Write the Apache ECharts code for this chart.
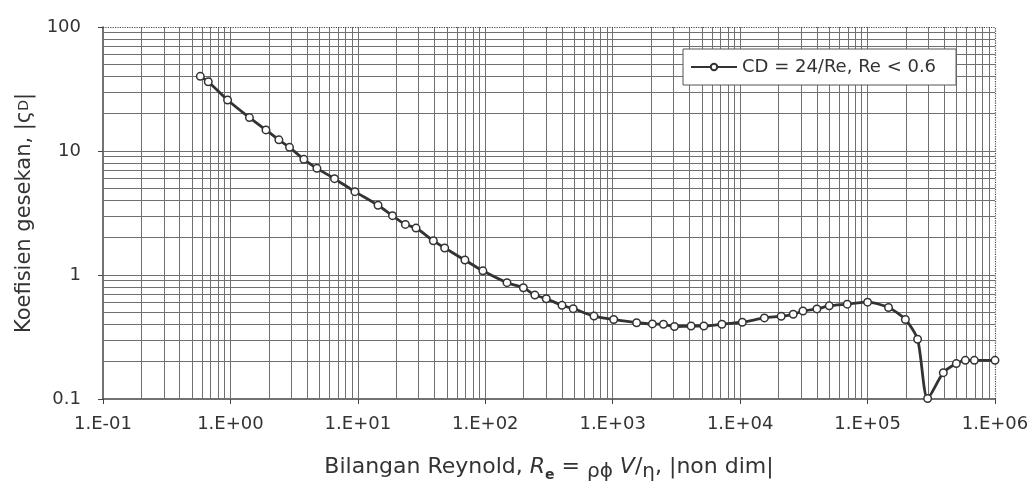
<!DOCTYPE html>
<html lang="id">
<head>
  <meta charset="UTF-8">
  <title>Koefisien gesekan vs Bilangan Reynold</title>
  <script src="https://cdn.jsdelivr.net/npm/echarts@6/dist/echarts.min.js"></script>
  <style>
    html, body { margin: 0; padding: 0; background: #fff; }
    #chart { width: 1028px; height: 487px; }
  </style>
</head>
<body>
  <div id="chart"></div>
  <script>
    // bilangan Reynold (sumbu x) dan koefisien gesekan (sumbu y)
    var reValues = [0.58, 0.67, 0.95, 1.41, 1.90, 2.40, 2.91, 3.77, 4.77, 6.56,
      9.49, 14.4, 18.7, 23.6, 28.6, 39.1, 48, 69.2, 95.7, 148,
      199, 245, 301, 400, 490, 713, 1018, 1540, 2047, 2500,
      3050, 4120, 5190, 7190, 10400, 15500, 21000, 26100, 31100, 40000,
      50000, 69200, 100000, 146000, 198000, 247000, 296000, 393000, 497000, 585000,
      689000, 1000000];
    var cdValues = [40, 36.2, 25.8, 18.6, 14.8, 12.3, 10.7, 8.57, 7.25, 5.98,
      4.70, 3.65, 3.01, 2.56, 2.39, 1.89, 1.65, 1.32, 1.08, 0.867,
      0.790, 0.689, 0.644, 0.569, 0.535, 0.466, 0.438, 0.412, 0.403, 0.401,
      0.384, 0.388, 0.388, 0.401, 0.416, 0.451, 0.465, 0.482, 0.512, 0.533,
      0.564, 0.582, 0.604, 0.547, 0.438, 0.303, 0.101, 0.163, 0.193, 0.205,
      0.205, 0.205];

    var xTickLabels = ['1.E-01', '1.E+00', '1.E+01', '1.E+02', '1.E+03', '1.E+04', '1.E+05', '1.E+06'];
    var yTickLabels = ['0.1', '1', '10', '100'];
    var seriesName = 'CD = 24/Re, Re < 0.6';

    var textColor = '#333';
    var gridColor = '#707070';
    var font = '"DejaVu Sans", sans-serif';

    var points = [];
    for (var i = 0; i < reValues.length; i++) {
      points.push([reValues[i], cdValues[i]]);
    }

    // garis grid kertas log: 1..9 x 10^k
    var gridLines = [];
    for (var k = -1; k <= 5; k++) {
      for (var m = 1; m <= 9; m++) {
        if (k === -1 && m === 1) continue;
        gridLines.push({ xAxis: m * Math.pow(10, k) });
      }
    }
    for (var k2 = -1; k2 <= 1; k2++) {
      for (var m2 = 1; m2 <= 9; m2++) {
        if (k2 === -1 && m2 === 1) continue;
        gridLines.push({ yAxis: m2 * Math.pow(10, k2) });
      }
    }
    // tepi atas dan kanan bertitik
    var borderLines = [{ xAxis: 1e6 }, { yAxis: 100 }];

    var chart = echarts.init(document.getElementById('chart'));
    var option = {
      backgroundColor: '#fff',
      animation: false,
      textStyle: { fontFamily: font, color: textColor },
      grid: { left: 103, right: 33, top: 27, bottom: 88, outerBoundsMode: 'none', containLabel: false },
      legend: {
        data: [seriesName],
        left: 683,
        top: 49,
        z: 20,
        padding: [8, 20, 8, 7],
        itemWidth: 46,
        itemHeight: 8,
        itemGap: 4,
        backgroundColor: '#fff',
        borderColor: '#555',
        borderWidth: 1,
        textStyle: { fontSize: 18, color: textColor, fontFamily: font, lineHeight: 20 }
      },
      xAxis: {
        type: 'log',
        logBase: 10,
        min: 0.1,
        max: 1e6,
        splitNumber: 7,
        splitLine: { show: false },
        axisLine: { lineStyle: { color: '#444', width: 1.5 } },
        axisTick: { length: 5, lineStyle: { color: '#444' } },
        axisLabel: {
          fontSize: 18,
          color: textColor,
          fontFamily: font,
          margin: 16,
          showMinLabel: true,
          showMaxLabel: true,
          formatter: function (v, idx) { return xTickLabels[idx]; }
        },
        name: 'Bilangan Reynold, {it|R}{e|e} = {sub|ρϕ} {it|V}/{sub|η}, |non dim|',
        nameLocation: 'middle',
        nameGap: 53,
        nameTextStyle: {
          fontSize: 22,
          color: textColor,
          fontFamily: font,
          lineHeight: 30,
          rich: {
            it: { fontSize: 22, fontStyle: 'italic', color: textColor, fontFamily: font },
            e: { fontSize: 14, fontWeight: 'bold', verticalAlign: 'bottom', color: textColor, fontFamily: font, padding: [8, 0, 0, 0] },
            sub: { fontSize: 20, verticalAlign: 'bottom', color: textColor, fontFamily: font, padding: [10, 0, 0, 0] }
          }
        }
      },
      yAxis: {
        type: 'log',
        logBase: 10,
        min: 0.1,
        max: 100,
        splitNumber: 3,
        splitLine: { show: false },
        axisLine: { show: true, lineStyle: { color: '#444', width: 1.5 } },
        axisTick: { show: true, length: 5, lineStyle: { color: '#444' } },
        axisLabel: {
          fontSize: 18,
          color: textColor,
          fontFamily: font,
          margin: 22,
          padding: [0, 0, 10, 0],
          formatter: function (v, idx) { return yTickLabels[idx]; }
        },
        name: 'Koefisien gesekan, |ς{sc|D}|',
        nameLocation: 'middle',
        nameGap: 68,
        nameTextStyle: {
          fontSize: 21,
          color: textColor,
          fontFamily: font,
          rich: { sc: { fontSize: 14, color: textColor, fontFamily: font } }
        }
      },
      series: [
        {
          type: 'line',
          data: [],
          silent: true,
          z: 1,
          markLine: {
            silent: true,
            z: 1,
            symbol: 'none',
            label: { show: false },
            animation: false,
            lineStyle: { color: gridColor, width: 1, type: 'solid' },
            data: gridLines
          }
        },
        {
          type: 'line',
          data: [],
          silent: true,
          z: 1,
          markLine: {
            silent: true,
            z: 1,
            symbol: 'none',
            label: { show: false },
            animation: false,
            lineStyle: { color: '#444', width: 1.2, type: 'dotted' },
            data: borderLines
          }
        },
        {
          name: seriesName,
          type: 'line',
          data: points,
          z: 5,
          smooth: 0.25,
          symbol: 'circle',
          symbolSize: 7.5,
          lineStyle: { color: '#333', width: 2.8 },
          itemStyle: { color: '#fff', borderColor: '#333', borderWidth: 1.5 }
        }
      ]
    };
    chart.setOption(option);
  </script>
</body>
</html>
